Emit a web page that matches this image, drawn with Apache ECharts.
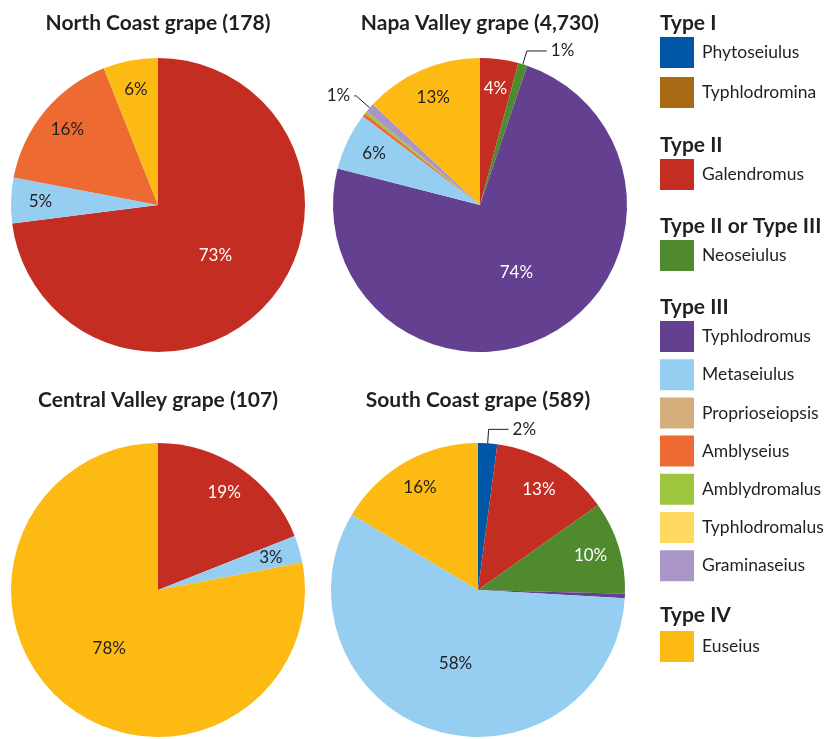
<!DOCTYPE html>
<html>
<head>
<meta charset="utf-8">
<script src="https://cdn.jsdelivr.net/npm/echarts@6/dist/echarts.min.js"></script>
<style>
  html, body { margin: 0; padding: 0; background: #fff; }
  #main { width: 829px; height: 739px; }
</style>
</head>
<body>
<div id="main"></div>
<script>
  // genera and their colours (legend order)
  var genera = ['Phytoseiulus', 'Typhlodromina', 'Galendromus', 'Neoseiulus', 'Typhlodromus', 'Metaseiulus',
    'Proprioseiopsis', 'Amblyseius', 'Amblydromalus', 'Typhlodromalus', 'Graminaseius', 'Euseius'];
  var generaColors = ['#0057a5', '#a66b14', '#c42e22', '#4f8a2f', '#634190', '#96cef1',
    '#d3ad7a', '#ee6a33', '#9dc63e', '#fed960', '#a996c6', '#fdba12'];
  var darkGenera = ['Phytoseiulus', 'Typhlodromina', 'Galendromus', 'Neoseiulus', 'Typhlodromus'];

  var groupTitles = ['Type I', 'Type II', 'Type II or Type III', 'Type III', 'Type IV'];
  var groupGenera = [
    ['Phytoseiulus', 'Typhlodromina'],
    ['Galendromus'],
    ['Neoseiulus'],
    ['Typhlodromus', 'Metaseiulus', 'Proprioseiopsis', 'Amblyseius', 'Amblydromalus', 'Typhlodromalus', 'Graminaseius'],
    ['Euseius']
  ];

  var chartTitles = ['North Coast grape (178)', 'Napa Valley grape (4,730)', 'Central Valley grape (107)', 'South Coast grape (589)'];

  var northCoastNames = ['Galendromus', 'Metaseiulus', 'Amblyseius', 'Euseius'];
  var northCoastValues = [73, 5, 16, 6];
  var napaNames = ['Galendromus', 'Neoseiulus', 'Typhlodromus', 'Metaseiulus', 'Amblyseius', 'Amblydromalus', 'Graminaseius', 'Euseius'];
  var napaValues = [4.2, 1.0, 73.8, 6.3, 0.4, 0.3, 1.0, 13.0];
  var centralNames = ['Galendromus', 'Metaseiulus', 'Euseius'];
  var centralValues = [19, 3, 78];
  var southNames = ['Phytoseiulus', 'Galendromus', 'Neoseiulus', 'Typhlodromus', 'Metaseiulus', 'Euseius'];
  var southValues = [2.1, 13.1, 10.2, 0.5, 57.7, 16.4];

  // layout
  var R = 147;
  var pieCenters = [[158, 205], [480, 205], [158, 590], [478, 590]];
  var titleY = [23, 23, 400, 400];
  var legendTops = [37, 159, 240, 321, 631];
  var headerY = [23, 145, 226, 307, 615];
  var FONT = 'Lato, "Open Sans", sans-serif';
  var INK = '#231f20';

  function sliceColor (name) { return generaColors[genera.indexOf(name)]; }
  function labelColor (name) { return darkGenera.indexOf(name) >= 0 ? '#fff' : INK; }
  function pct (v) { return Math.round(v) + '%'; }

  function pieSeries (names, values, center) {
    var main = {
      type: 'pie', center: center, radius: [0, R], startAngle: 90, clockwise: true,
      silent: true, animation: false, avoidLabelOverlap: false,
      label: { show: false, fontFamily: FONT, fontSize: 17 },
      labelLine: { show: false },
      data: names.map(function (n, i) {
        var v = values[i];
        var item = { name: n, value: v, itemStyle: { color: sliceColor(n) } };
        if (v >= 40) {
          item.label = { show: true, position: 'inside', color: labelColor(n), formatter: pct(v) };
        } else if (v >= 0.8 && v < 3) {
          var leftSide = i > names.length / 2;
          item.label = { show: true, position: 'outside', color: INK, formatter: pct(v), distanceToLabelLine: 4 };
          item.labelLine = {
            show: true, length: leftSide ? 18 : 14, length2: leftSide ? 2 : 20,
            lineStyle: { color: INK, width: 1 }
          };
        }
        return item;
      })
    };
    // transparent ring that carries the labels of the mid-sized slices nearer the rim
    var ring = {
      type: 'pie', center: center, radius: [R * 0.56, R], startAngle: 90, clockwise: true,
      silent: true, animation: false, avoidLabelOverlap: false,
      itemStyle: { color: 'rgba(0,0,0,0)' },
      label: { show: false, fontFamily: FONT, fontSize: 17 },
      labelLine: { show: false },
      data: names.map(function (n, i) {
        var v = values[i];
        var item = { name: n, value: v };
        if (v >= 3 && v < 40) {
          item.label = { show: true, position: 'inside', color: labelColor(n), formatter: pct(v) };
        }
        return item;
      })
    };
    return [main, ring];
  }

  // invisible series so every genus has a legend colour
  var legendSource = {
    type: 'pie', center: [-200, -200], radius: [0, 1], silent: true, animation: false,
    label: { show: false }, labelLine: { show: false },
    data: genera.map(function (g) { return { name: g, value: 1, itemStyle: { color: sliceColor(g) } }; })
  };

  var series = [legendSource]
    .concat(pieSeries(northCoastNames, northCoastValues, pieCenters[0]))
    .concat(pieSeries(napaNames, napaValues, pieCenters[1]))
    .concat(pieSeries(centralNames, centralValues, pieCenters[2]))
    .concat(pieSeries(southNames, southValues, pieCenters[3]));

  var graphics = chartTitles.map(function (t, i) {
    return {
      type: 'text', x: pieCenters[i][0], y: titleY[i],
      style: { text: t, font: 'bold 21px ' + FONT, fill: INK, align: 'center', verticalAlign: 'middle' }
    };
  }).concat(groupTitles.map(function (t, i) {
    return {
      type: 'text', x: 660, y: headerY[i],
      style: { text: t, font: 'bold 21px ' + FONT, fill: INK, align: 'left', verticalAlign: 'middle' }
    };
  }));

  var chart = echarts.init(document.getElementById('main'));
  chart.setOption({
    backgroundColor: '#fff',
    animation: false,
    legend: groupGenera.map(function (g, i) {
      return {
        data: g, orient: 'vertical', left: 660, top: legendTops[i],
        itemWidth: 34, itemHeight: 31, itemGap: i === 0 ? 9 : 7.2,
        icon: 'rect', selectedMode: false, padding: 0,
        textStyle: { fontFamily: FONT, fontSize: 17.5, color: INK, padding: [0, 0, 0, 3] }
      };
    }),
    graphic: graphics,
    series: series
  });
</script>
</body>
</html>
